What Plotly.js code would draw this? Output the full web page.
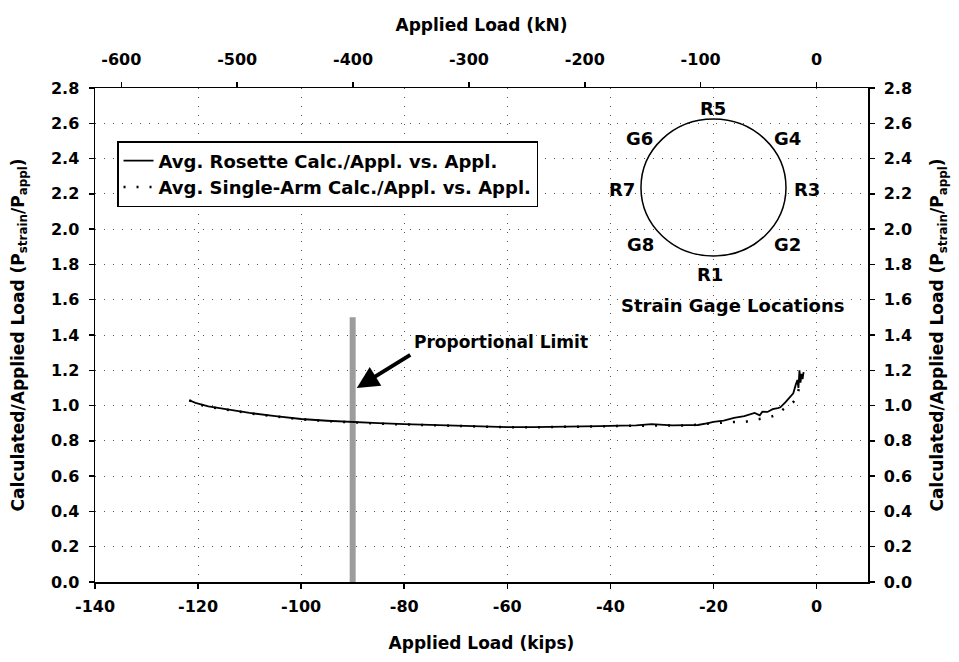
<!DOCTYPE html>
<html>
<head>
<meta charset="utf-8">
<script src="https://cdn.plot.ly/plotly-3.0.1.min.js"></script>
<style>html,body{margin:0;padding:0;background:#fff;}#chart{width:959px;height:662px;}</style>
</head>
<body>
<div id="chart"></div>
<script>
// ---- data ----
const rosetteLoad = [-121.7,-120.5,-118,-115,-112,-110,-105,-100,-95,-90,-85,-80,-75,-70,-65,-60,-55,-50,-45,-42,-38,-35,-32,-30,-28,-25,-23,-21,-20,-18,-16,-14,-13,-12,-11,-10.5,-9.5,-8.5,-7.5,-7,-6,-5.2,-4.5,-4.0,-3.7,-3.5,-3.3,-3.1,-2.9,-2.7,-2.5];
const rosetteRatio = [1.03,1.015,0.995,0.98,0.966,0.958,0.94,0.924,0.914,0.905,0.9,0.895,0.89,0.885,0.88,0.878,0.878,0.879,0.881,0.884,0.886,0.888,0.895,0.89,0.888,0.889,0.89,0.9,0.907,0.915,0.93,0.94,0.948,0.958,0.945,0.965,0.964,0.98,0.985,0.99,1.02,1.05,1.07,1.12,1.145,1.1,1.2,1.13,1.18,1.15,1.19];
const singleLoad = [-121.7,-120.5,-118,-115,-112,-110,-105,-100,-95,-90,-85,-80,-75,-70,-65,-60,-55,-50,-45,-40,-35,-30,-25,-20,-18,-16,-14,-12,-10,-9,-7.5,-6.4,-5.4,-4.5,-3.9,-3.5,-3.2,-3.0,-2.7];
const singleRatio = [1.03,1.012,0.993,0.978,0.964,0.956,0.938,0.922,0.912,0.903,0.898,0.893,0.888,0.883,0.879,0.877,0.877,0.878,0.88,0.883,0.886,0.888,0.887,0.9,0.905,0.907,0.907,0.92,0.93,0.935,0.95,0.98,1.0,1.02,1.04,1.08,1.12,1.15,1.17];
const propLimitLoad = [-90, -90];
const propLimitRatio = [0, 1.5];
const kipsTicks = [-140,-120,-100,-80,-60,-40,-20,0];
const kipsTickText = ["-140","-120","-100","-80","-60","-40","-20","0"];
const kNTicks = [-600,-500,-400,-300,-200,-100,0];
const kNTickText = ["-600","-500","-400","-300","-200","-100","0"];
const ratioTicks = [0,0.2,0.4,0.6,0.8,1.0,1.2,1.4,1.6,1.8,2.0,2.2,2.4,2.6,2.8];
const gageLabels = ["R5","G6","G4","R7","R3","G8","G2","R1"];
const seriesNames = ["Avg. Rosette Calc./Appl. vs. Appl.","Avg. Single-Arm Calc./Appl. vs. Appl."];
const KN_PER_KIP = 4.448222;
const kipsRange = [-140, 10];

// ---- styling/positions ----
const F = "DejaVu Sans, Arial, sans-serif";
const gagePos = [[0.7995,0.9595],[0.7050,0.8968],[0.8965,0.8968],[0.6818,0.7955],[0.9211,0.7955],[0.7063,0.6822],[0.8965,0.6822],[0.7956,0.6215]];

const traces = [
  {x: propLimitLoad, y: propLimitRatio, mode:'lines', line:{color:'#9c9c9c', width:6}, showlegend:false, hoverinfo:'skip'},
  {x: singleLoad, y: singleRatio, mode:'lines', name: seriesNames[1], line:{color:'#000', width:2.5, dash:'2px,11px'}},
  {x: rosetteLoad, y: rosetteRatio, mode:'lines', name: seriesNames[0], line:{color:'#000', width:1.8}},
  {x:[null], y:[null], xaxis:'x2', yaxis:'y2', mode:'lines', showlegend:false, hoverinfo:'skip'}
];

const axisCommon = {
  ticks:'outside', ticklen:5, tickwidth:1.5, tickcolor:'#000',
  showline:true, linecolor:'#000', linewidth:1.5,
  zeroline:false, automargin:false,
  tickfont:{family:F, size:16, color:'#000', weight:'bold'}
};
const titleFont = {family:F, size:17, color:'#000', weight:'bold'};

const annotations = gageLabels.map((t,i)=>({
  text:'<b>'+t+'</b>', xref:'paper', yref:'paper', x:gagePos[i][0], y:gagePos[i][1],
  showarrow:false, font:{family:F, size:18, color:'#000'}, xanchor:'center', yanchor:'middle'
}));
annotations.push({text:'<b>Strain Gage Locations</b>', xref:'paper', yref:'paper', x:0.8241, y:0.5607,
  showarrow:false, font:{family:F, size:18, color:'#000'}, xanchor:'center', yanchor:'middle'});
annotations.push({text:'<b>Proportional Limit</b>', xref:'x', yref:'y', x:-78.4, y:1.36,
  showarrow:false, font:{family:F, size:17, color:'#000'}, xanchor:'left', yanchor:'middle'});
annotations.push({text:'', xref:'x', yref:'y', x:-89.2, y:1.1, ax:55, ay:-34,
  showarrow:true, arrowhead:2, arrowsize:1.1, arrowwidth:4, arrowcolor:'#000'});

const layout = {
  width:959, height:662,
  margin:{l:95, r:91, t:88, b:80},
  paper_bgcolor:'#fff', plot_bgcolor:'#fff',
  font:{family:F, color:'#000'},
  showlegend:true,
  legend:{x:0.0285, y:0.8927, xanchor:'left', yanchor:'top', bgcolor:'#fff',
    bordercolor:'#000', borderwidth:1.5, font:{family:F, size:18, color:'#000', weight:'bold'},
    traceorder:'reversed', tracegroupgap:0},
  xaxis: Object.assign({}, axisCommon, {
    range:kipsRange, tickvals:kipsTicks, ticktext:kipsTickText,
    showgrid:true, gridcolor:'#555', gridwidth:1, griddash:'1px,8px',
    ticklabelstandoff:4,
    title:{text:'Applied Load (kips)', font:titleFont, standoff:22}
  }),
  xaxis2: Object.assign({}, axisCommon, {
    overlaying:'x', side:'top', anchor:'y',
    range:[kipsRange[0]*KN_PER_KIP, kipsRange[1]*KN_PER_KIP],
    tickvals:kNTicks, ticktext:kNTickText, showgrid:false,
    ticklabelstandoff:10,
    title:{text:'Applied Load (kN)', font:titleFont, standoff:14}
  }),
  yaxis: Object.assign({}, axisCommon, {
    range:[0,2.8], tickvals:ratioTicks, tickformat:'.1f',
    showgrid:true, gridcolor:'#555', gridwidth:1, griddash:'1px,8px',
    ticklabelstandoff:6,
    title:{text:'Calculated/Applied Load (P<sub>strain</sub>/P<sub>appl</sub>)', font:titleFont, standoff:22}
  }),
  yaxis2: Object.assign({}, axisCommon, {
    overlaying:'y', side:'right', anchor:'x',
    range:[0,2.8], tickvals:ratioTicks, tickformat:'.1f', showgrid:false,
    ticklabelstandoff:6,
    title:{text:'Calculated/Applied Load (P<sub>strain</sub>/P<sub>appl</sub>)', font:titleFont, standoff:20}
  }),
  shapes:[{type:'circle', xref:'paper', yref:'paper', x0:0.7063, x1:0.8939, y0:0.6599, y1:0.9372,
    line:{color:'#000', width:1.5}, fillcolor:'rgba(0,0,0,0)'}],
  annotations: annotations
};

Plotly.newPlot('chart', traces, layout, {staticPlot:true, displayModeBar:false});
</script>
</body>
</html>
